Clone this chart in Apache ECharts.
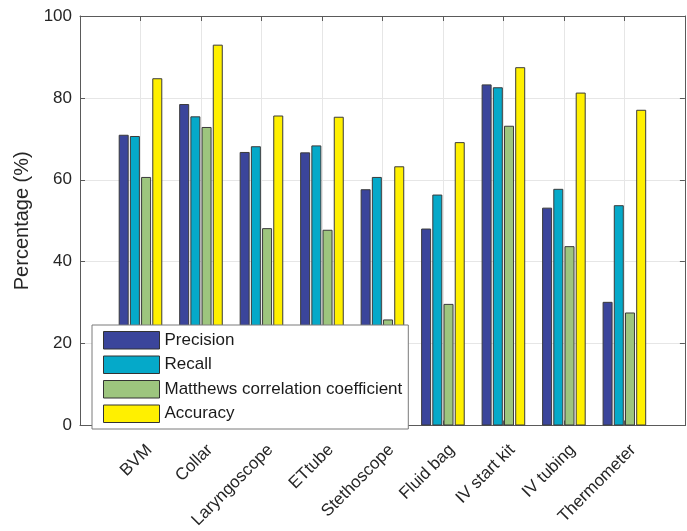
<!DOCTYPE html>
<html><head><meta charset="utf-8">
<script src="https://cdn.jsdelivr.net/npm/echarts@6/dist/echarts.min.js"></script>
<style>html,body{margin:0;padding:0;background:#fff}#c{width:687px;height:531px}</style>
</head><body><div id="c"></div>
<script>
const categories = ['BVM','Collar','Laryngoscope','ETtube','Stethoscope','Fluid bag','IV start kit','IV tubing','Thermometer'];
const precision = [71.0, 78.5, 66.8, 66.7, 57.7, 48.1, 83.3, 53.2, 30.2];
const recall    = [70.7, 75.5, 68.2, 68.4, 60.7, 56.4, 82.6, 57.8, 53.8];
const mcc       = [60.7, 72.9, 48.2, 47.8, 25.9, 29.7, 73.2, 43.8, 27.6];
const accuracy  = [84.8, 93.0, 75.7, 75.4, 63.3, 69.2, 87.5, 81.3, 77.1];
const seriesNames = ['Precision','Recall','Matthews correlation coefficient','Accuracy'];
const yTicks = [0, 20, 40, 60, 80, 100];

const colors = ['#3B459B', '#05A9C9', '#9DC57E', '#FFF000'];
const font = 'Arial, "Liberation Sans", sans-serif';
const toPts = arr => arr.map((v, i) => [i + 1, v]);
const allData = [precision, recall, mcc, accuracy];

const chart = echarts.init(document.getElementById('c'), null, {renderer: 'canvas'});
const axisColor = '#5a5a5a';
const option = {
  animation: false,
  backgroundColor: '#fff',
  grid: {left: 80, right: 2, top: 16, bottom: 104, show: false},
  legend: {
    orient: 'vertical', left: 92, top: 325,
    padding: [6, 6, 6, 11],
    itemWidth: 56, itemHeight: 17.5, itemGap: 6,
    backgroundColor: '#fff', borderColor: '#7a7a7a', borderWidth: 1,
    icon: 'rect',
    itemStyle: {borderColor: '#333', borderWidth: 1},
    textStyle: {fontFamily: font, fontSize: 17, lineHeight: 17, color: '#1a1a1a'},
    data: seriesNames
  },
  xAxis: [{
    type: 'value', min: 0, max: 10, interval: 1,
    axisLine: {show: true, onZero: false, lineStyle: {color: axisColor}},
    axisTick: {show: true, inside: true, length: 5, lineStyle: {color: axisColor}},
    splitLine: {show: true, lineStyle: {color: '#e6e6e6', width: 1}},
    axisLabel: {
      rotate: 45, margin: 13, fontFamily: font, fontSize: 17, color: '#262626',
      verticalAlign: 'top', padding: [4, 0, 0, 0],
      showMinLabel: true, showMaxLabel: true,
      formatter: v => (v >= 1 && v <= categories.length ? categories[v - 1] : '')
    }
  }, {
    type: 'value', min: 0, max: 10, interval: 1, position: 'top',
    axisLine: {show: true, onZero: false, lineStyle: {color: axisColor}},
    axisTick: {show: true, inside: true, length: 5, lineStyle: {color: axisColor}},
    splitLine: {show: false}, axisLabel: {show: false}
  }],
  yAxis: [{
    type: 'value', min: 0, max: 100, interval: 20,
    name: 'Percentage (%)', nameLocation: 'middle', nameGap: 47,
    nameTextStyle: {fontFamily: font, fontSize: 20, color: '#262626'},
    axisLine: {show: true, onZero: false, lineStyle: {color: axisColor}},
    axisTick: {show: true, inside: true, length: 5, lineStyle: {color: axisColor}},
    splitLine: {show: true, lineStyle: {color: '#e6e6e6', width: 1}},
    axisLabel: {margin: 8, fontFamily: font, fontSize: 17, color: '#262626',
      formatter: v => (yTicks.includes(v) ? String(v) : '')}
  }, {
    type: 'value', min: 0, max: 100, interval: 20, position: 'right',
    axisLine: {show: true, onZero: false, lineStyle: {color: axisColor}},
    axisTick: {show: true, inside: true, length: 5, lineStyle: {color: axisColor}},
    splitLine: {show: false}, axisLabel: {show: false}
  }],
  series: seriesNames.map((name, k) => ({
    name, type: 'bar', xAxisIndex: 0, yAxisIndex: 0,
    barWidth: 10, barGap: '12%',
    itemStyle: {color: colors[k], borderColor: '#3a3a3a', borderWidth: 1},
    data: toPts(allData[k])
  }))
};
chart.setOption(option);
</script>
</body></html>
